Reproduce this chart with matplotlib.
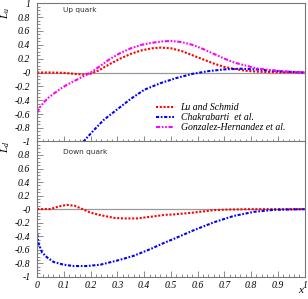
import matplotlib
matplotlib.use("Agg")
import matplotlib.pyplot as plt
from matplotlib.ticker import MultipleLocator, FixedLocator

plt.rcParams['mathtext.fontset'] = 'custom'
plt.rcParams['mathtext.it'] = 'Liberation Serif:italic'
plt.rcParams['mathtext.rm'] = 'Liberation Serif'

# ---- up quark ----
up_lu_x = [0, 0.05, 0.10, 0.14, 0.17, 0.20, 0.23, 0.27, 0.31, 0.35, 0.39, 0.43, 0.46,
           0.50, 0.54, 0.58, 0.62, 0.66, 0.70, 0.74, 0.78, 0.83, 0.90, 1.0]
up_lu_y = [0, 0, -0.005, -0.02, -0.03, -0.015, 0.03, 0.12, 0.20, 0.27, 0.32, 0.35, 0.36,
           0.35, 0.31, 0.25, 0.19, 0.13, 0.08, 0.05, 0.025, 0.01, 0.003, 0]

up_ch_x = [0.172, 0.21, 0.247, 0.28, 0.31, 0.35, 0.40, 0.46, 0.52, 0.58, 0.64, 0.70,
           0.76, 0.82, 0.88, 0.94, 1.0]
up_ch_y = [-1, -0.84, -0.69, -0.59, -0.5, -0.38, -0.25, -0.155, -0.08, -0.02, 0.02,
           0.045, 0.055, 0.045, 0.025, 0.01, 0]

up_gh_x = [0, 0.01, 0.025, 0.04, 0.06, 0.085, 0.11, 0.14, 0.17, 0.20, 0.23, 0.27, 0.31,
           0.35, 0.39, 0.43, 0.47, 0.50, 0.54, 0.58, 0.62, 0.66, 0.70, 0.74, 0.78, 0.82,
           0.87, 0.93, 1.0]
up_gh_y = [-0.58, -0.5, -0.43, -0.37, -0.31, -0.24, -0.18, -0.12, -0.06, 0.0, 0.08, 0.19,
           0.28, 0.35, 0.40, 0.43, 0.45, 0.455, 0.44, 0.40, 0.34, 0.27, 0.20, 0.14, 0.10,
           0.06, 0.035, 0.015, 0]

# ---- down quark ----
dn_lu_x = [0, 0.05, 0.08, 0.111, 0.14, 0.161, 0.198, 0.236, 0.286, 0.323, 0.373, 0.423,
           0.479, 0.51, 0.586, 0.66, 0.72, 0.8, 1.0]
dn_lu_y = [0, 0.002, 0.04, 0.063, 0.05, 0.015, -0.05, -0.088, -0.128, -0.137, -0.137,
           -0.113, -0.084, -0.078, -0.05, -0.015, -0.005, 0, 0]

dn_ch_x = [0, 0.005, 0.018, 0.036, 0.061, 0.099, 0.136, 0.186, 0.236, 0.298, 0.36, 0.423,
           0.479, 0.51, 0.586, 0.66, 0.735, 0.81, 0.885, 1.0]
dn_ch_y = [-0.37, -0.51, -0.64, -0.71, -0.78, -0.82, -0.84, -0.84, -0.82, -0.76, -0.69,
           -0.59, -0.49, -0.44, -0.31, -0.195, -0.1, -0.04, -0.01, 0]

labels = ['Lu and Schmid', 'Chakrabarti  et al.', 'Gonzalez-Hernandez et al.']
colors = ['#ff0000', '#0000ff', '#ff00ff']
styles = [(0, (1, 0.8)), (0, (1.5, 0.8, 0.8, 0.8)), (0, (2, 0.8, 0.8, 0.8, 0.8, 0.8))]

xticks = [0, 0.1, 0.2, 0.3, 0.4, 0.5, 0.6, 0.7, 0.8, 0.9, 1]
xtick_labels = ['0', '0.1', '0.2', '0.3', '0.4', '0.5', '0.6', '0.7', '0.8', '0.9', '1']
yticks = [-1, -0.8, -0.6, -0.4, -0.2, 0, 0.2, 0.4, 0.6, 0.8, 1]
ytick_labels = ['-1', '-0.8', '-0.6', '-0.4', '-0.2', '-0', '0.2', '0.4', '0.6', '0.8', '1']

tickfont = {'family': 'Liberation Serif', 'style': 'italic', 'size': 7}

fig = plt.figure(figsize=(3.08, 2.99), dpi=100)
ax_up = fig.add_axes([0.121, 0.526, 0.868, 0.463])
ax_dn = fig.add_axes([0.121, 0.074, 0.868, 0.453])


def style_axes(ax, show_x, show_top_ylabel):
    ax.set_xlim(0, 1)
    ax.set_ylim(-1, 1)
    ax.axhline(0, color='#999999', lw=0.9, zorder=1)
    for sp in ax.spines.values():
        sp.set_color('#777777')
        sp.set_linewidth(0.8)
    ax.xaxis.set_major_locator(FixedLocator(xticks))
    ax.xaxis.set_minor_locator(MultipleLocator(0.02))
    ax.yaxis.set_major_locator(FixedLocator(yticks))
    ax.yaxis.set_minor_locator(MultipleLocator(0.05))
    ax.tick_params(which='both', direction='in', color='#777777', width=0.6,
                   top=False, right=False)
    ax.tick_params(which='major', length=4)
    ax.tick_params(which='minor', length=2)
    if show_x:
        ax.set_xticklabels(xtick_labels, fontdict=tickfont)
        ax.tick_params(axis='x', pad=3)
    else:
        ax.set_xticklabels([])
    ylabs = list(ytick_labels)
    if not show_top_ylabel:
        ylabs[-1] = ''
    ax.set_yticklabels(ylabs, fontdict=tickfont)
    ax.tick_params(axis='y', pad=5)


style_axes(ax_up, False, True)
style_axes(ax_dn, True, False)

ax_up.plot(up_lu_x, up_lu_y, color=colors[0], ls=styles[0], lw=1.5, label=labels[0])
ax_up.plot(up_ch_x, up_ch_y, color=colors[1], ls=styles[1], lw=1.5, label=labels[1])
ax_up.plot(up_gh_x, up_gh_y, color=colors[2], ls=styles[2], lw=1.5, label=labels[2])

ax_dn.plot(dn_lu_x, dn_lu_y, color=colors[0], ls=styles[0], lw=1.5)
ax_dn.plot(dn_ch_x, dn_ch_y, color=colors[1], ls=styles[1], lw=1.5)

ax_up.legend(loc='upper left', bbox_to_anchor=(0.445, 0.28), frameon=False,
             prop={'family': 'Liberation Serif', 'style': 'italic', 'size': 7},
             handlelength=1.8, handletextpad=0.7, labelspacing=0.1, borderpad=0,
             borderaxespad=0)

ax_up.text(0.095, 0.955, 'Up quark', transform=ax_up.transAxes, fontsize=5.3,
           color='#333333', va='center', ha='left')
ax_dn.text(0.095, 0.92, 'Down quark', transform=ax_dn.transAxes, fontsize=5.3,
           color='#333333', va='center', ha='left')

fig.text(0.02, 0.955, '$L_u$', rotation=90, fontsize=8, va='center', ha='center')
fig.text(0.02, 0.51, '$L_d$', rotation=90, fontsize=8, va='center', ha='center')
fig.text(0.975, 0.012, 'x', fontsize=8, family='Liberation Serif', style='italic',
         ha='center', va='bottom')

fig.savefig('out.png', dpi=100)
